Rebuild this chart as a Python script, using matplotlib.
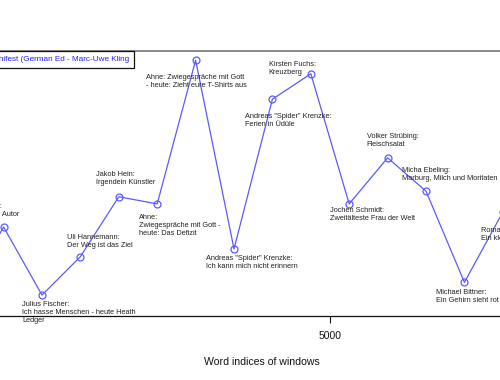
import matplotlib.pyplot as plt
from matplotlib.lines import Line2D

plt.rcParams['font.family'] = ['Liberation Sans', 'DejaVu Sans']

# word index of each window and its score
windows = [250, 750, 1250, 1750, 2250, 2750, 3250, 3750, 4250, 4750,
           5250, 5750, 6250, 6750, 7250]
scores = [0.08, 0.336, 0.079, 0.224, 0.450, 0.423, 0.965, 0.253, 0.818,
          0.914, 0.423, 0.597, 0.471, 0.127, 0.392]
labels = [
    'Marc-Uwe Kling:\nDie Känguru-Chroniken',
    'Marc-Uwe Kling:\nDer unbekannte Autor',
    'Julius Fischer:\nIch hasse Menschen - heute Heath\nLedger',
    'Uli Hannemann:\nDer Weg ist das Ziel',
    'Jakob Hein:\nIrgendein Künstler',
    'Ahne:\nZwiegespräche mit Gott -\nheute: Das Defizit',
    'Ahne: Zwiegespräche mit Gott\n- heute: Zieht eure T-Shirts aus',
    'Andreas "Spider" Krenzke:\nIch kann mich nicht erinnern',
    'Andreas "Spider" Krenzke:\nFerien in Üdüle',
    'Kirsten Fuchs:\nKreuzberg',
    'Jochen Schmidt:\nZweitälteste Frau der Welt',
    'Volker Strübing:\nFleischsalat',
    'Micha Ebeling:\nMarburg, Milch und Moritaten',
    'Michael Bittner:\nEin Gehirn sieht rot',
    'Roman Israel:\nEin kleiner Held',
]
xticks = [0, 5000, 10000]
legend_text = 'Lesebühnen-Schifest (German Ed - Marc-Uwe Kling'

# label offsets in screen pixels (left edge, vertical centre; down = positive)
offsets = [(-90, 20), (-56, -16), (-20, 17), (-13, -15), (-23, -18), (-18, 22),
           (-50, 21), (-28, 14), (-27, 21), (-42, -5), (-19, 11), (-21, -17),
           (-24, -17), (-28, 14), (-22, 22)]

blue = '#5a5aff'

fig = plt.figure(figsize=(5, 3.8), dpi=100)
ax = fig.add_axes([-0.12, 64 / 380, 644 / 500, 265 / 380])

ax.plot(windows, scores, color=blue, lw=0.9, marker='o', ms=5,
        mfc='none', mec=blue, mew=0.9)

for x, y, t, (dx, dy) in zip(windows, scores, labels, offsets):
    ax.annotate(t, (x, y), xytext=(dx, -dy), textcoords='offset pixels',
                ha='left', va='center', fontsize=5.3, color='#222222',
                linespacing=1.2, annotation_clip=False)

ax.set_xticks(xticks)
ax.set_xticklabels([str(v) for v in xticks])
ax.set_xlim(-78, 8307)
ax.set_ylim(0, 1)
ax.tick_params(axis='x', length=5, width=0.8, pad=6, labelsize=7.5,
               colors='#111111')
ax.set_yticks([])
ax.set_xlabel('Word indices of windows', fontsize=7.6, labelpad=11,
              color='#111111')

for side in ['left', 'right', 'bottom']:
    ax.spines[side].set_color('#111111')
    ax.spines[side].set_linewidth(0.9)
ax.spines['top'].set_color('#808080')
ax.spines['top'].set_linewidth(1.3)

handle = Line2D([], [], color=blue, lw=0.9, marker='o', mfc='none', ms=5)
leg = ax.legend([handle], [legend_text], loc='upper right',
                bbox_to_anchor=(134 / 500, 1 - 51 / 380),
                bbox_transform=fig.transFigure, borderaxespad=0,
                fancybox=False, framealpha=1, edgecolor='#111111',
                fontsize=5.9, labelcolor='#2020ff', handlelength=2,
                borderpad=0.55)
leg.get_frame().set_linewidth(0.9)

fig.savefig('out.png', dpi=100)
